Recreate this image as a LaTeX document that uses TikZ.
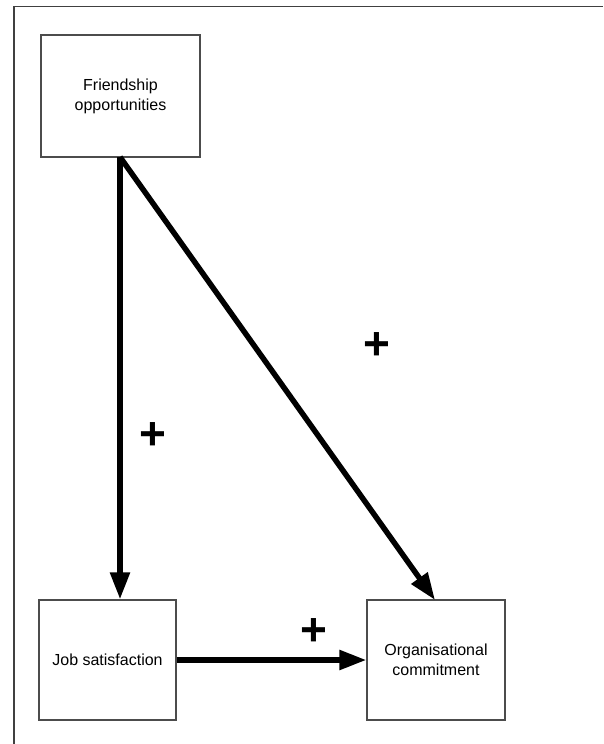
\documentclass[tikz,border=0pt]{standalone}
\usepackage{fontspec}
\setmainfont{Liberation Sans}
\usetikzlibrary{arrows.meta}
\begin{document}
\begin{tikzpicture}[x=1pt,y=-1pt,
  box/.style={draw=black!70,line width=1.3pt,fill=white,inner sep=0pt,
    align=center,font=\fontsize{16}{20}\selectfont},
  link/.style={line width=5.5pt,-{Triangle[length=27pt,width=19pt]}},
  sign/.style={font=\fontsize{46}{46}\selectfont\bfseries,inner sep=0pt}]
  % canvas and partial frame (top and left edges only)
  \fill[white] (0,0) rectangle (603,744);
  \useasboundingbox (0,0) rectangle (603,744);
  \draw[black!75,line width=1.6pt] (14,744) -- (14,6.5) -- (603,6.5);

  % boxes
  \node[box,minimum width=159pt,minimum height=122pt] (fo) at (120.5,96)
    {Friendship\\opportunities};
  \node[box,minimum width=137pt,minimum height=120pt] (js) at (107.5,660)
    {Job satisfaction};
  \node[box,minimum width=138pt,minimum height=120pt] (oc) at (436,660)
    {Organisational\\commitment};

  % connectors
  \coordinate (src) at (120,157);
  \draw[link] (src) -- (js.north -| src);
  \draw[link] (src) -- (435,600);
  \draw[link] (js.east) -- (oc.west);

  % signs
  \node[sign] (p1) at (153,436) {+};
  \node[sign] (p2) at (377,346) {+};
  \node[sign] (p3) at (314,632) {+};
\end{tikzpicture}
\end{document}
